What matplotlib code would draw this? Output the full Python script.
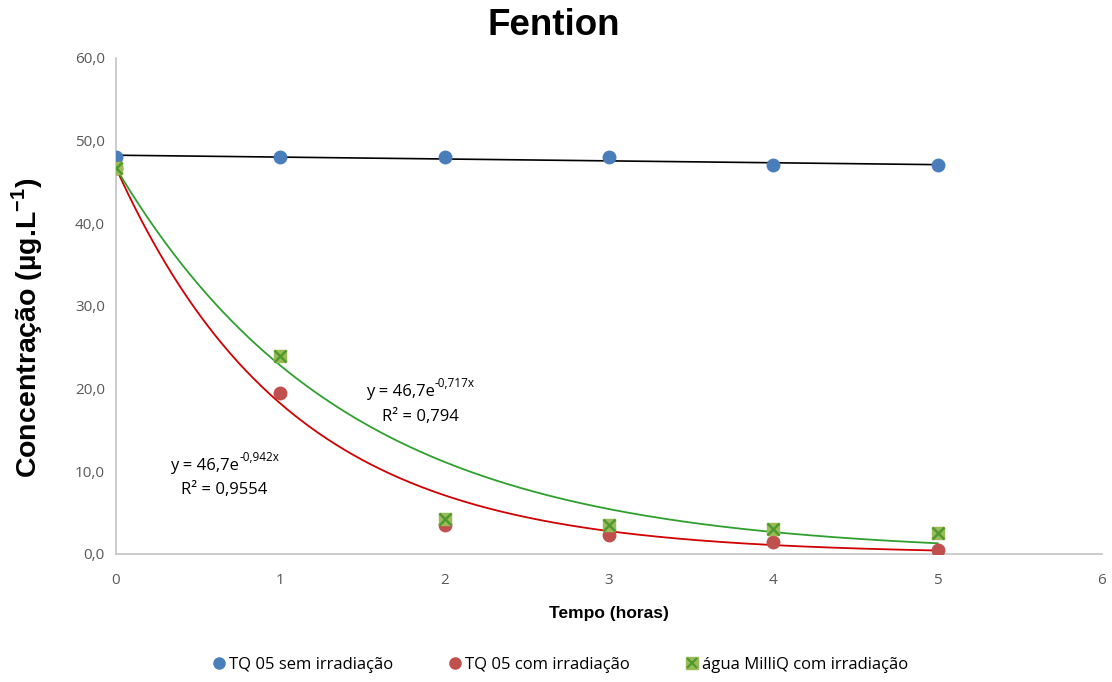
import numpy as np
import matplotlib
matplotlib.use("Agg")
import matplotlib.pyplot as plt
from matplotlib.lines import Line2D

plt.rcParams['font.family'] = ['Open Sans', 'DejaVu Sans']
plt.rcParams['mathtext.fontset'] = 'custom'
plt.rcParams['mathtext.rm'] = 'Liberation Sans:bold'
plt.rcParams['mathtext.bf'] = 'Liberation Sans:bold'

# Measured concentrations (µg/L) over time (hours)
tempo = [0, 1, 2, 3, 4, 5]
sem_irradiacao = [48.0, 48.0, 48.0, 48.0, 47.0, 47.0]
com_irradiacao = [46.7, 19.5, 3.5, 2.3, 1.5, 0.5]
milliq_irradiacao = [46.7, 24.0, 4.2, 3.5, 3.0, 2.5]

# Exponential trend parameters (a * exp(b x)) and R²
fit_com = (46.7, -0.942, 0.9554)
fit_milliq = (46.7, -0.717, 0.794)

x_ticks = [0, 1, 2, 3, 4, 5, 6]
y_ticks = [0, 10, 20, 30, 40, 50, 60]

fig = plt.figure(figsize=(11.12, 6.82), dpi=100)
ax = fig.add_axes([0.1043, 0.1877, 0.8867, 0.7273])

t = np.array(tempo, dtype=float)
xs = np.linspace(0, 5, 400)

# Linear trend for the non-irradiated sample
slope, intercept = np.polyfit(t, sem_irradiacao, 1)
ax.plot(xs, intercept + slope * xs, color='black', lw=1.2, zorder=2)

# Exponential trends
ax.plot(xs, fit_com[0] * np.exp(fit_com[1] * xs), color='#D00000', lw=1.3, zorder=2)
ax.plot(xs, fit_milliq[0] * np.exp(fit_milliq[1] * xs), color='#2EA02E', lw=1.3, zorder=2)

blue = '#4A7EBB'
red = '#C0504D'
green_fill = '#9BBB59'
green_x = '#4E9A2E'

ax.plot(tempo, sem_irradiacao, 'o', color=blue, ms=9, zorder=4)
ax.plot(tempo, com_irradiacao, 'o', color=red, ms=9, zorder=4)
ax.plot(tempo, milliq_irradiacao, 's', color=green_fill, ms=9, zorder=5)
ax.plot(tempo, milliq_irradiacao, 'x', color=green_x, ms=8, mew=1.8, zorder=6)

ax.set_xlim(0, 6)
ax.set_ylim(0, 60)
ax.set_xticks(x_ticks)
ax.set_yticks(y_ticks)
ax.set_xticklabels([str(v) for v in x_ticks])
ax.set_yticklabels([f"{v:.1f}".replace('.', ',') for v in y_ticks])
ax.tick_params(length=0, labelsize=11, colors='#595959')
ax.tick_params(axis='x', pad=14)
ax.tick_params(axis='y', pad=8)

for s in ['top', 'right']:
    ax.spines[s].set_visible(False)
for s in ['left', 'bottom']:
    ax.spines[s].set_color('#C8C8C8')
    ax.spines[s].set_linewidth(1.3)

ax.set_xlabel('Tempo (horas)', fontsize=12.5, fontweight='bold',
              family='Liberation Sans', labelpad=13)
fig.text(0.024, 0.52, r'Concentração (µg.L$^{-1}$)', fontsize=20.5, fontweight='bold',
         family='Liberation Sans', rotation=90, ha='center', va='center')
fig.text(0.498, 0.962, 'Fention', fontsize=26.5, fontweight='bold',
         family='Liberation Sans', ha='center', va='center')


def fmt(v):
    return str(v).replace('.', ',')


def equation(x, y, a, b):
    base = ax.text(x, y, f"y = {fmt(a)}e", ha='left', va='center', fontsize=12)
    ax.annotate(f"{fmt(b)}x", xy=(1.0, 0.62), xycoords=base, ha='left', va='bottom',
                fontsize=8.5)


equation(1.52, 19.6, fit_milliq[0], fit_milliq[1])
ax.text(1.85, 16.6, f"R² = {fmt(fit_milliq[2])}", ha='center', va='center', fontsize=12)
equation(0.33, 10.6, fit_com[0], fit_com[1])
ax.text(0.66, 7.7, f"R² = {fmt(fit_com[2])}", ha='center', va='center', fontsize=12)

h1 = Line2D([], [], marker='o', ls='', color=blue, ms=8)
h2 = Line2D([], [], marker='o', ls='', color=red, ms=8)
h3a = Line2D([], [], marker='s', ls='', color=green_fill, ms=8)
h3b = Line2D([], [], marker='x', ls='', color=green_x, ms=7, mew=1.6)
fig.legend([h1, h2, (h3a, h3b)],
           ['TQ 05 sem irradiação', 'TQ 05 com irradiação', 'água MilliQ com irradiação'],
           loc='center', bbox_to_anchor=(0.503, 0.025), ncol=3, frameon=False,
           fontsize=12, handletextpad=0.1, columnspacing=3.2, handlelength=1.0)

fig.savefig('out.png', dpi=100)
